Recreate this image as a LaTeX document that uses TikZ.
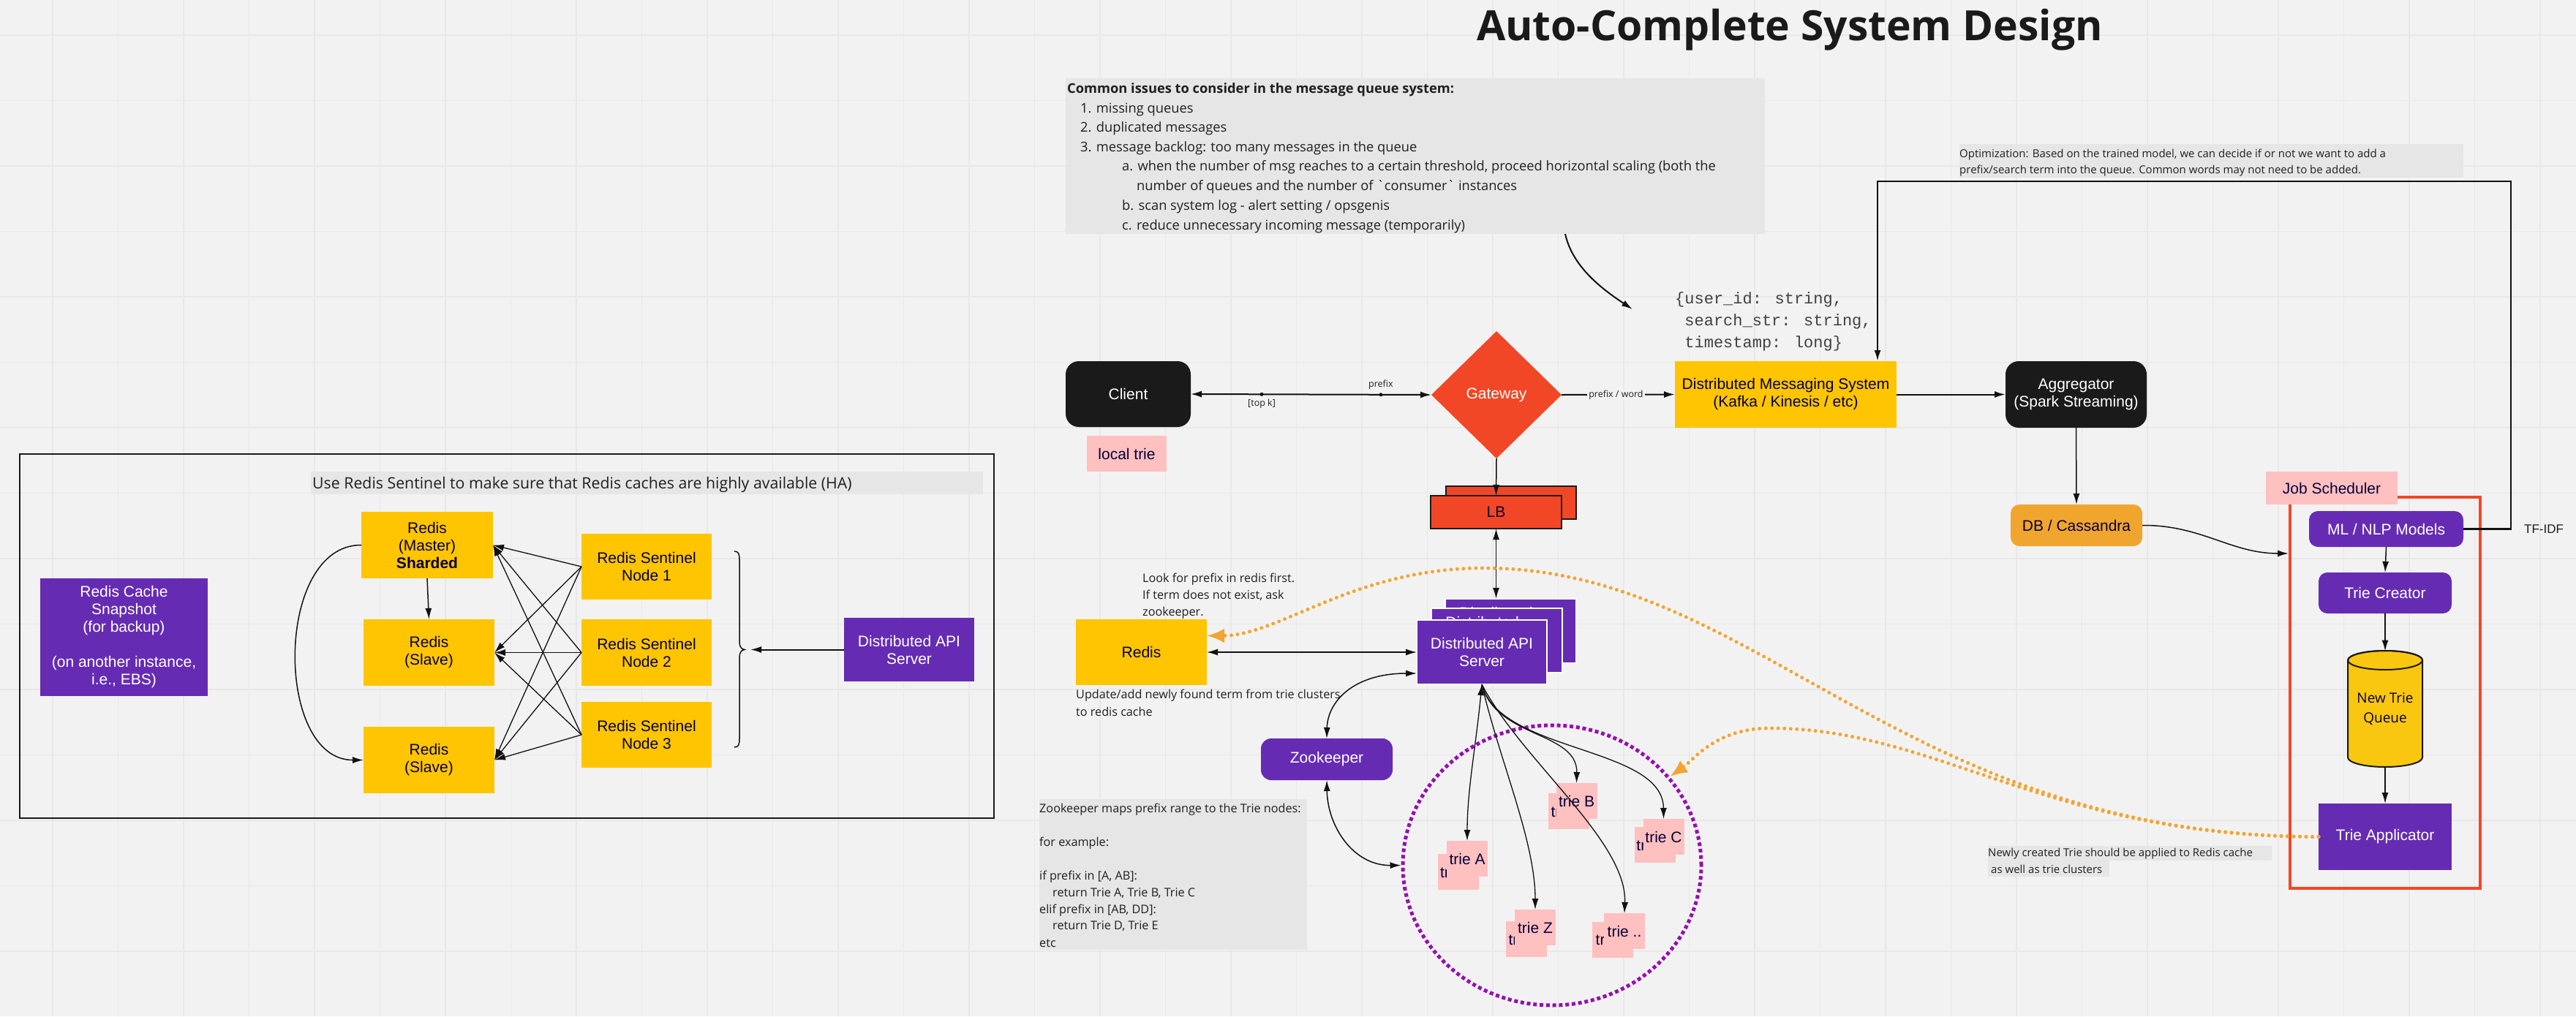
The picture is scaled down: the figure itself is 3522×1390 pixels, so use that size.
\documentclass[tikz,border=0pt]{standalone}
\usepackage{fontspec}
\usetikzlibrary{shapes.geometric,arrows.meta,calc}
\newfontfamily\lsans{Liberation Sans}
\newfontfamily\osans{Open Sans}[Ligatures=TeXOff]
\newfontfamily\lmono{Liberation Mono}[Ligatures=TeXOff]
\definecolor{bg}{HTML}{F2F2F2}
\definecolor{gridc}{HTML}{E8E8E8}
\definecolor{cblack}{HTML}{1A1A1A}
\definecolor{cyellow}{HTML}{FFC500}
\definecolor{cpurple}{HTML}{652CB3}
\definecolor{cred}{HTML}{F24726}
\definecolor{cpink}{HTML}{FFC0C0}
\definecolor{cdb}{HTML}{F0A62E}
\definecolor{corange}{HTML}{F2A533}
\definecolor{cpdot}{HTML}{9510AC}
\definecolor{cnavy}{HTML}{050038}
\definecolor{ccyl}{HTML}{FAC710}
\definecolor{cnotebg}{HTML}{E6E6E6}
\definecolor{cnote}{HTML}{1F1F1F}
\definecolor{cline}{HTML}{111111}
\newcommand\trienode[6]{%
  \node[pkbox, wh={56}{49}] (#1b) at (#2,#3) {\rlap{tr}\phantom{#6}};
  \node[pkbox, wh={56}{49}] (#1) at (#4,#5) {#6};}
\tikzset{
  wh/.style 2 args={minimum width=#1pt, minimum height=#2pt},
  lbl/.style={font=\lsans\fontsize{21}{24}\selectfont, align=center, inner sep=0pt, outer sep=0pt},
  ybox/.style={lbl, fill=cyellow, text=cnavy},
  pkbox/.style={lbl, fill=cpink, text=cnavy},
  pubox/.style={lbl, fill=cpurple, text=white},
  blkbox/.style={lbl, fill=cblack, text=white, rounded corners=18pt},
  notefill/.style={fill=cnotebg, inner sep=0pt, outer sep=0pt, anchor=north west},
  ntxt/.style={text=cnote, inner sep=0pt, anchor=base west},
  nA/.style={ntxt, font=\osans\fontsize{18.3}{22}\selectfont},
  nB/.style={ntxt, font=\osans\fontsize{16.2}{20}\selectfont},
  nC/.style={ntxt, font=\osans\fontsize{15}{18}\selectfont},
  mono/.style={ntxt, text=cnote!85, font=\lmono\fontsize{22}{26}\selectfont},
  elabel/.style={font=\osans\fontsize{12.5}{14}\selectfont, text=cnote, inner sep=1pt},
  gridline/.style={draw=gridc, line width=1.5pt},
  conn/.style={draw=cline, line width=1.5pt},
  odot/.style={draw=corange, line width=5pt, line cap=round, dash pattern=on 0.01pt off 8.5pt, -{Latex[length=24pt,width=20pt]}},
}
\begin{document}
\begin{tikzpicture}[x=1pt,y=-1pt, >={Latex[length=15pt,width=9pt]}]
\useasboundingbox (0,0) rectangle (3522,1390);
\fill[bg] (0,0) rectangle (3522,1390);
\foreach \i in {0,...,38} \draw[gridline] ({72+89.5*\i},0) -- ({72+89.5*\i},1390);
\foreach \j in {0,...,14} \draw[gridline] (0,{48+89.5*\j}) -- (3522,{48+89.5*\j});

% title
\node[inner sep=0pt, anchor=base, text=cblack, font=\osans\bfseries\fontsize{57}{60}\selectfont] (title) at (2447,55) {Auto-Complete System Design};

% ---------- notes ----------
\node[notefill, wh={956}{213}] (issues) at (1457,107) {};
\node[nA, font=\osans\bfseries\fontsize{18.3}{22}\selectfont] at (1459,127) {Common issues to consider in the message queue system:};
\node[nA] at (1477,154) {1. missing queues};
\node[nA] at (1477,180) {2. duplicated messages};
\node[nA] at (1477,207) {3. message backlog: too many messages in the queue};
\node[nA] at (1534,233) {a. when the number of msg reaches to a certain threshold, proceed horizontal scaling (both the};
\node[nA] at (1554,260) {number of queues and the number of \char96 consumer\char96\ instances};
\node[nA] at (1534,287) {b. scan system log - alert setting / opsgenis};
\node[nA] at (1534,314) {c. reduce unnecessary incoming message (temporarily)};

\node[notefill, wh={689}{46}] (optnote) at (2679,197) {};
\node[nC] at (2679,215) {Optimization: Based on the trained model, we can decide if or not we want to add a};
\node[nC] at (2679,237) {prefix/search term into the queue. Common words may not need to be added.};

\node[mono] (js1) at (2290,415) {\{user\_id: string,};
\node[mono] (js2) at (2290,445) {\ search\_str: string,};
\node[mono] (js3) at (2290,475) {\ timestamp: long\}};

\node[nB] at (1562,796) {Look for prefix in redis first.};
\node[nB] at (1562,819) {If term does not exist, ask};
\node[nB] at (1562,842) {zookeeper.};
\node[nB] at (1471,955) {Update/add newly found term from trie clusters};
\node[nB] at (1471,979) {to redis cache};

\node[notefill, wh={366}{206}] (zknote) at (1421,1093) {};
\node[nB] at (1421,1111) {Zookeeper maps prefix range to the Trie nodes:};
\node[nB] at (1421,1157) {for example:};
\node[nB] at (1421,1203) {if prefix in [A, AB]:};
\node[nB] at (1439,1226) {return Trie A, Trie B, Trie C};
\node[nB] at (1421,1249) {elif prefix in [AB, DD]:};
\node[nB] at (1439,1271) {return Trie D, Trie E};
\node[nB] at (1421,1295) {etc};

\fill[cnotebg] (2718,1157) rectangle (3106,1177);
\fill[cnotebg] (2718,1177) rectangle (2884,1199);
\node[nC] at (2718,1171) {Newly created Trie should be applied to Redis cache};
\node[nC] at (2722,1194) {as well as trie clusters};

% ---------- left panel ----------
\draw[line width=2.5pt, draw=cblack] (27,621) rectangle (1359,1119);
\node[notefill, wh={919}{31}] (hanote) at (425,645) {};
\node[ntxt, font=\osans\fontsize{21.3}{24}\selectfont] at (427,668) {Use Redis Sentinel to make sure that Redis caches are highly available (HA)};
\node[pubox, wh={229}{161}] (snap) at (169.5,871.5) {Redis Cache\\Snapshot\\(for backup)\\\mbox{}\\(on another instance,\\i.e., EBS)};
\node[ybox, wh={180}{91}] (master) at (584,745.5) {Redis\\(Master)\\\textbf{Sharded}};
\node[ybox, wh={179}{91}] (slave1) at (586.5,892.5) {Redis\\(Slave)};
\node[ybox, wh={179}{91}] (slave2) at (586.5,1039.5) {Redis\\(Slave)};
\node[ybox, wh={178}{90}] (sent1) at (884,775) {Redis Sentinel\\Node 1};
\node[ybox, wh={178}{91}] (sent2) at (884,892.5) {Redis Sentinel\\Node 2};
\node[ybox, wh={178}{90}] (sent3) at (884,1005) {Redis Sentinel\\Node 3};
\node[pubox, wh={178}{87}] (lapi) at (1243,888.5) {Distributed API\\Server};
\foreach \s in {sent1,sent2,sent3}
  \foreach \r in {master,slave1,slave2}
    \draw[conn, line width=1.3pt, ->] (\s.west) -- (\r.east);
\draw[conn, ->] (master.south) -- (slave1.north);
\draw[conn, ->] (master.west) .. controls (375,745) and (375,1040) .. (slave2.west);
\draw[conn] (1004,754) .. controls (1010,754) and (1011,758) .. (1011,766) -- (1011,878)
  .. controls (1011,885) and (1014,888) .. (1018,888.5) coordinate (btip)
  .. controls (1014,889) and (1011,892) .. (1011,899) -- (1011,1010)
  .. controls (1011,1018) and (1010,1022) .. (1004,1022);
\coordinate (bin) at (1026,888.5);
\draw[conn, line width=2pt, ->] (lapi.west) -- (bin);

% ---------- main flow ----------
\node[blkbox, wh={171}{90}] (client) at (1542.5,539) {Client};
\node[pkbox, wh={109}{49}] (ltrie) at (1540.5,620.5) {local trie};
\node[lbl, diamond, aspect=1, fill=cred, text=white, wh={178}{174}] (gw) at (2046,540) {Gateway};
\node[ybox, wh={303}{91}] (dms) at (2441.5,539.5) {Distributed Messaging System\\(Kafka / Kinesis / etc)};
\node[blkbox, wh={193}{91}] (agg) at (2838.5,539.5) {Aggregator\\(Spark Streaming)};
\node[lbl, fill=cdb, text=cnavy, rounded corners=12pt, wh={180}{57}] (db) at (2839,718.5) {DB / Cassandra};

\node[draw=cred, line width=4pt, wh={260}{535}, inner sep=0pt] (sched) at (3261,947.5) {};
\node[pkbox, wh={180}{45}] (js) at (3188,667.5) {Job Scheduler};
\node[pubox, rounded corners=12pt, wh={211}{49}] (ml) at (3262.5,723.5) {ML / NLP Models};
\node[pubox, rounded corners=12pt, wh={182}{56}] (tc) at (3261,811) {Trie Creator};
\path[fill=ccyl, draw=cblack, line width=2pt] (3210,903) -- (3210,1036) arc[start angle=180, end angle=0, x radius=51, y radius=13] -- (3312,903) arc[start angle=0, end angle=-180, x radius=51, y radius=13] -- cycle;
\draw[cblack, line width=2pt] (3261,903) ellipse [x radius=51, y radius=13];
\node[lbl, font=\osans\fontsize{19}{27}\selectfont, text=cnavy, wh={102}{159}] (queue) at (3261,970) {New Trie\\Queue};
\node[pubox, wh={182}{91}] (app) at (3261,1144.5) {Trie Applicator};
\node[lbl, font=\lsans\fontsize{17}{20}\selectfont, text=cnote] (tfidf) at (3478,724) {TF-IDF};

\node[lbl, fill=cred, draw=cblack, line width=2.5pt, wh={178}{45}] (lbb) at (2066,687.5) {};
\node[lbl, fill=cred, draw=cblack, line width=2.5pt, text=cnavy, wh={179}{45}] (lb) at (2045.5,700.5) {LB};

\node[pubox, draw=white, line width=2pt, wh={179}{88}] (apib) at (2065.5,863) {};
\begin{scope}
\clip (1976,819) rectangle (2155,832);
\node[lbl, text=white] at (2065.5,850) {Distributed\phantom{ API}\\\phantom{Server}};
\end{scope}
\node[pubox, draw=white, line width=2pt, wh={179}{88}] (apim) at (2046.5,876) {};
\begin{scope}
\clip (1957,832) rectangle (2136,847);
\node[lbl, text=white] at (2046.5,863) {Distributed\phantom{ API}\\\phantom{Server}};
\end{scope}
\node[pubox, draw=white, line width=2pt, wh={178}{88}] (apif) at (2026,892) {Distributed API\\Server};

\node[ybox, wh={179}{90}] (redis) at (1560.5,892) {Redis};
\node[pubox, rounded corners=14pt, wh={180}{57}] (zk) at (1814,1038.5) {Zookeeper};

\node[ellipse, draw=cpdot, line width=5pt, dash pattern=on 5pt off 3.8pt, wh={408}{383}, inner sep=0pt] (circ) at (2122,1183.5) {};

\trienode{trA}{1993.5}{1192.5}{2006}{1174.5}{trie A}
\trienode{trB}{2145}{1109.5}{2155.5}{1095.5}{trie B}
\trienode{trC}{2262.5}{1155.5}{2274.5}{1144.5}{trie C}
\trienode{trZ}{2086.5}{1284.5}{2099}{1268.5}{trie Z}
\trienode{trD}{2205}{1285}{2221}{1273.5}{trie ..}

% ---------- connectors ----------
\path (client.east) -- (gw.west) coordinate[pos=0.295] (d1) coordinate[pos=0.79] (d2);
\draw[conn, line width=2pt, <->] (client.east) -- (gw.west);
\fill[cline] (d1) circle (2.5pt);
\fill[cline] (d2) circle (2.5pt);
\node[elabel] at ($(d2)+(0,-14)$) {prefix};
\node[elabel] at ($(d1)+(0,13)$) {[top k]};
\draw[conn, line width=2pt, ->] (gw.east) -- node[elabel, fill=bg, inner sep=2pt, pos=0.48] {prefix / word} (dms.west);
\draw[conn, line width=2pt, ->] (dms.east) -- (agg.west);
\coordinate (isstart) at (2140,320);
\coordinate (jstip) at (2232,423);
\draw[conn, line width=2pt, ->] (isstart) .. controls (2150,365) and (2190,395) .. (jstip);

\draw[conn, ->] (agg.south) -- (db.north);
\draw[conn, ->] (db.east) .. controls (3010,718) and (3050,757) .. ($(sched.west)+(0,-190.5)$);
\draw[conn, ->] (ml.south) -- (tc.north);
\draw[conn, ->] (tc.south) -- (queue.north);
\draw[conn, ->] (queue.south) -- (app.north);
\coordinate (tf1) at (3433,248);
\coordinate (tf2) at (2567,248);
\draw[conn, line width=2.5pt, ->] (ml.east) -| (tf1) -- (tf2) -- ($(dms.north west)+(277,0)$);

\draw[conn, ->] (gw.south) -- (lb.north);
\draw[conn, <->] (lb.south) -- (lb.south |- apib.north);
\draw[conn, <->] (redis.east) -- (apif.west);
\draw[conn, <->] (zk.north) .. controls (1815,960) and (1850,921) .. ($(apif.south west)+(0,-15)$);
\draw[conn, <->] (zk.south) .. controls (1815,1130) and (1850,1184) .. (circ.west);

\draw[conn, line width=1.3pt, <->] (apif.south) .. controls (2018,1020) and (2006,1080) .. (trA.north);
\draw[conn, line width=1.3pt, ->] (apif.south) .. controls (2045,1010) and (2157,1000) .. (trB.north);
\draw[conn, line width=1.3pt, ->] (apif.south) .. controls (2050,1030) and (2274,1020) .. (trC.north);
\draw[conn, line width=1.3pt, ->] (apif.south) .. controls (2050,1040) and (2099,1150) .. (trZ.north);
\draw[conn, line width=1.3pt, ->] (apif.south) .. controls (2080,1040) and (2225,1150) .. (trD.north);

\draw[odot] (app.west) .. controls (2600,1144) and (2400,777) .. (2029,777) .. controls (1850,777) and (1750,869.5) .. ($(redis.north east)!0.25!(redis.south east)$);
\draw[odot] (app.west) .. controls (2800,1144.5) and (2650,996) .. (2420,996) .. controls (2345,996) and (2315,1040) .. (circ.37);
\end{tikzpicture}
\end{document}
